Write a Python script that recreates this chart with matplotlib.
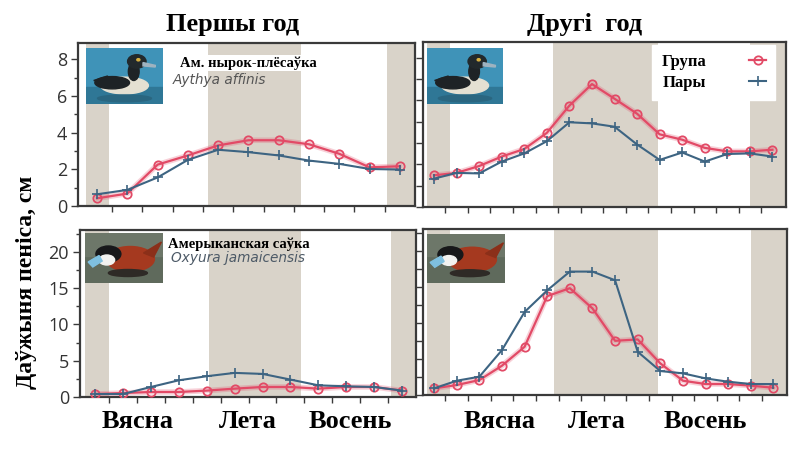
import matplotlib
matplotlib.use("Agg")
import matplotlib.pyplot as plt
from matplotlib.patches import Ellipse, Circle, Rectangle, Polygon
from matplotlib.ticker import MultipleLocator, FixedLocator

# ---------------- data ----------------
titles = ["Першы год", "Другі  год"]
seasons = ["Вясна", "Лета", "Восень"]
series_names = ["Група", "Пары"]
species_top = ["Ам. нырок-плёсаўка", "Aythya affinis"]
species_bot = ["Амерыканская саўка", "Oxyura jamaicensis"]
ylabel = "Даўжыня пеніса, см"

# Aythya affinis, first year (11 samples)
tl_group = [0.42, 0.68, 2.26, 2.76, 3.31, 3.59, 3.59, 3.37, 2.85, 2.11, 2.17]
tl_pairs = [0.64, 0.88, 1.56, 2.52, 3.07, 2.94, 2.76, 2.48, 2.30, 2.02, 1.99]
# Aythya affinis, second year (16 samples)
tr_group = [1.71, 1.84, 2.21, 2.72, 3.13, 4.00, 5.47, 6.63, 5.84, 5.03, 3.92, 3.63, 3.19, 3.00, 3.00, 3.09]
tr_pairs = [1.53, 1.84, 1.81, 2.45, 2.89, 3.55, 4.57, 4.51, 4.33, 3.37, 2.54, 2.94, 2.45, 2.86, 2.89, 2.72]
# Oxyura jamaicensis, first year (12 samples)
bl_group = [0.41, 0.55, 0.69, 0.69, 0.88, 1.15, 1.38, 1.38, 1.15, 1.38, 1.38, 0.88]
bl_pairs = [0.41, 0.41, 1.38, 2.30, 2.86, 3.32, 3.18, 2.40, 1.61, 1.47, 1.38, 0.88]
# Oxyura jamaicensis, second year (16 samples)
br_group = [0.92, 1.38, 2.07, 4.06, 6.68, 13.7, 14.8, 12.0, 7.51, 7.70, 4.38, 1.98, 1.52, 1.52, 1.29, 1.01]
br_pairs = [0.92, 1.98, 2.53, 6.22, 11.5, 14.5, 17.1, 17.1, 15.9, 5.99, 3.32, 3.00, 2.30, 1.84, 1.52, 1.52]

# ---------------- style ----------------
W, H = 800, 454
RED = "#e24a66"
BLUE = "#3d6482"
SHADE = "#d9d3c9"
SPINE = "#3a3a3a"
SERIF = ["Liberation Serif", "DejaVu Serif"]
SANS = ["Open Sans", "DejaVu Sans"]

fig = plt.figure(figsize=(W / 100, H / 100), dpi=100)
fig.patch.set_facecolor("white")


def px_axes(x0, y0, x1, y1, **kw):
    return fig.add_axes([x0 / W, 1 - y1 / H, (x1 - x0) / W, (y1 - y0) / H], **kw)


def style_axes(ax, xlim, ylim, ntick, ymajor=None, yminor=None, labels=True):
    ax.set_xlim(*xlim)
    ax.set_ylim(*ylim)
    for s in ax.spines.values():
        s.set_color(SPINE)
        s.set_linewidth(1.6)
    ax.xaxis.set_major_locator(FixedLocator([i + 0.5 for i in range(ntick)]))
    ax.tick_params(axis="x", direction="out", length=4, width=1.0, color=SPINE, labelbottom=False)
    ax.tick_params(axis="y", which="both", direction="out", color=SPINE, width=1.0)
    ax.tick_params(axis="y", which="major", length=5)
    ax.tick_params(axis="y", which="minor", length=3)
    if ymajor:
        ax.yaxis.set_major_locator(MultipleLocator(ymajor))
    if yminor:
        ax.yaxis.set_minor_locator(MultipleLocator(yminor))
    if labels:
        for lab in ax.get_yticklabels():
            lab.set_fontfamily(SANS)
        ax.tick_params(axis="y", labelsize=13, labelcolor="#333333", pad=3)
    else:
        ax.tick_params(axis="y", labelleft=False)


def plot_lines(ax, g, p):
    xs_g = list(range(len(g)))
    xs_p = list(range(len(p)))
    ax.plot(xs_g, g, color=RED, lw=4, alpha=0.25, zorder=3, solid_capstyle="round")
    lg, = ax.plot(xs_g, g, color=RED, lw=1.6, marker="o", ms=6, mfc="none", mec=RED,
                  mew=1.3, zorder=4, label=series_names[0])
    lp, = ax.plot(xs_p, p, color=BLUE, lw=1.5, marker="+", ms=6.5, mew=1.2, zorder=5,
                  label=series_names[1])
    return lg, lp


def duck_top(x0, y0, x1, y1):
    a = px_axes(x0, y0, x1, y1)
    a.set_xlim(0, 1); a.set_ylim(0, 1); a.axis("off")
    a.add_patch(Rectangle((0, 0), 1, 1, color="#3f93b8"))
    a.add_patch(Rectangle((0, 0), 1, 0.3, color="#2f7796"))
    a.add_patch(Ellipse((0.5, 0.33), 0.62, 0.3, color="#e4e0d2"))
    a.add_patch(Ellipse((0.34, 0.38), 0.45, 0.22, color="#1e2326"))
    a.add_patch(Polygon([[0.1, 0.42], [0.28, 0.5], [0.3, 0.36]], color="#1e2326"))
    a.add_patch(Ellipse((0.62, 0.58), 0.14, 0.32, color="#1e2326"))
    a.add_patch(Circle((0.66, 0.76), 0.12, color="#22292c"))
    a.add_patch(Polygon([[0.74, 0.74], [0.9, 0.69], [0.9, 0.66], [0.74, 0.68]], color="#9fb3c0"))
    a.add_patch(Circle((0.68, 0.79), 0.02, color="#d8b040"))
    a.add_patch(Ellipse((0.5, 0.1), 0.7, 0.12, color="#2a6680"))


def duck_bot(x0, y0, x1, y1):
    a = px_axes(x0, y0, x1, y1)
    a.set_xlim(0, 1); a.set_ylim(0, 1); a.axis("off")
    a.add_patch(Rectangle((0, 0), 1, 1, color="#5f6a5c"))
    a.add_patch(Rectangle((0, 0.55), 1, 0.45, color="#6d7769"))
    a.add_patch(Ellipse((0.58, 0.48), 0.62, 0.5, color="#a5391f"))
    a.add_patch(Polygon([[0.75, 0.6], [0.98, 0.82], [0.88, 0.52]], color="#8b2f19"))
    a.add_patch(Circle((0.3, 0.58), 0.16, color="#17181a"))
    a.add_patch(Ellipse((0.28, 0.46), 0.2, 0.2, color="#f2f2f0"))
    a.add_patch(Polygon([[0.18, 0.55], [0.04, 0.42], [0.1, 0.32], [0.22, 0.44]], color="#7fc0e0"))
    a.add_patch(Ellipse((0.55, 0.2), 0.5, 0.14, color="#2e2a26"))


# ---------------- panels ----------------
ax_tl = px_axes(78, 43, 415, 206)
ax_tr = px_axes(423, 42, 786, 207)
ax_bl = px_axes(80, 230, 416, 397)
ax_br = px_axes(423, 229, 787, 395)

# shaded seasons
for (a, b) in [(-0.36, 0.40), (3.66, 6.73), (9.57, 10.6)]:
    ax_tl.axvspan(a, b, color=SHADE, lw=0, zorder=0)
for (a, b) in [(-0.31, 0.71), (5.29, 9.91), (14.0, 15.55)]:
    ax_tr.axvspan(a, b, color=SHADE, lw=0, zorder=0)
for (a, b) in [(-0.36, 0.5), (4.09, 7.38), (10.6, 11.6)]:
    ax_bl.axvspan(a, b, color=SHADE, lw=0, zorder=0)
for (a, b) in [(-0.31, 0.71), (5.29, 9.91), (14.0, 15.55)]:
    ax_br.axvspan(a, b, color=SHADE, lw=0, zorder=0)

plot_lines(ax_tl, tl_group, tl_pairs)
lg, lp = plot_lines(ax_tr, tr_group, tr_pairs)
plot_lines(ax_bl, bl_group, bl_pairs)
plot_lines(ax_br, br_group, br_pairs)

style_axes(ax_tl, (-0.63, 10.5), (0, 8.9), 10, ymajor=2, yminor=1)
style_axes(ax_tr, (-0.49, 15.6), (0, 8.9), 15, ymajor=1.15, labels=False)
style_axes(ax_bl, (-0.54, 11.5), (0, 23), 11, ymajor=5, yminor=2.5)
style_axes(ax_br, (-0.49, 15.6), (0, 23), 15, ymajor=2.5, labels=False)

# legend
leg = ax_tr.legend(handles=[lg, lp], loc="upper left",
                   bbox_to_anchor=((652 - 423) / 363, 1 - (45 - 42) / 165),
                   markerfirst=False, frameon=True, fancybox=False, framealpha=1,
                   edgecolor="white", handlelength=1.0, handletextpad=2.6,
                   borderpad=0.55, labelspacing=0.3, borderaxespad=0,
                   prop={"family": SERIF, "weight": "bold", "size": 12})

# duck "photos"
duck_top(86, 48, 163, 104)
duck_top(427, 48, 503, 104)
duck_bot(85, 233, 163, 283)
duck_bot(427, 234, 505, 283)


def ftext(x, y, s, **kw):
    fig.text(x / W, 1 - y / H, s, **kw)


# species names
ftext(180, 63, species_top[0], family=SERIF, weight="bold", size=10.5, va="center", ha="left",
      bbox=dict(facecolor="white", edgecolor="none", pad=1.0))
ftext(173, 80, species_top[1], family=["DejaVu Sans"], style="italic", size=9.8,
      color="#555555", va="center", ha="left")
ftext(168, 244, species_bot[0], family=SERIF, weight="bold", size=10.5, va="center", ha="left")
ftext(171, 258, species_bot[1], family=["DejaVu Sans"], style="italic", size=9.8,
      color="#4c5966", va="center", ha="left")

# titles
ftext(233, 25, titles[0], family=SERIF, weight="bold", size=19, ha="center", va="center")
ftext(585, 25, titles[1], family=SERIF, weight="bold", size=19, ha="center", va="center")

# season labels
for x, s in zip([138, 248, 350], seasons):
    ftext(x, 421, s, family=SERIF, weight="bold", size=19, ha="center", va="center")
for x, s in zip([500, 597, 705], seasons):
    ftext(x, 421, s, family=SERIF, weight="bold", size=19, ha="center", va="center")

# y label
ftext(27, 282, ylabel, family=SERIF, weight="bold", size=17, rotation=90,
      ha="center", va="center")

fig.savefig("out.png", dpi=100, facecolor="white")
